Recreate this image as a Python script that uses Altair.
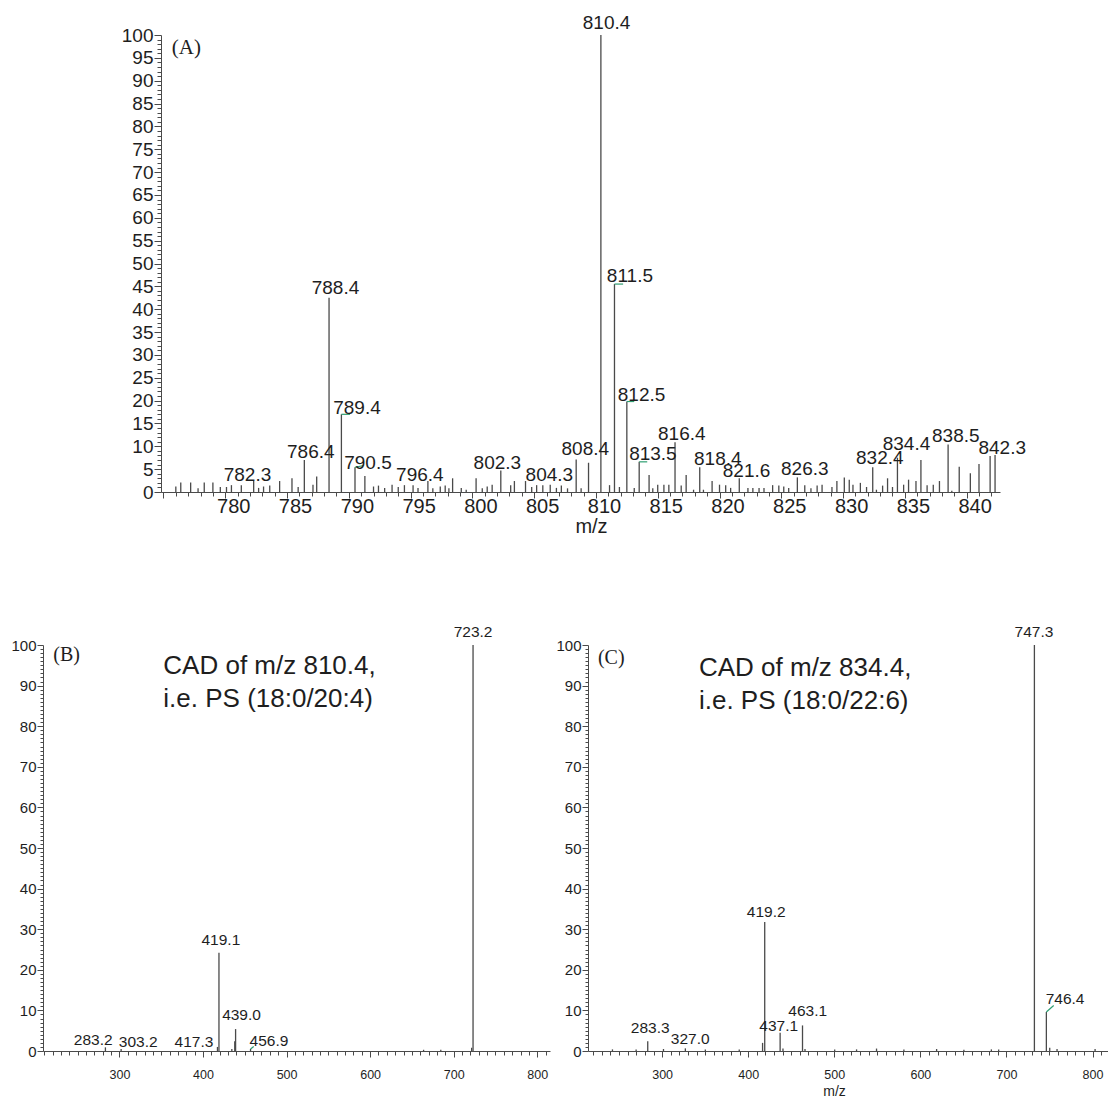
import altair as alt
import pandas as pd

FONT = "Liberation Sans"
SERIF = "Liberation Serif"
INK = "#4a4a4a"
TXT = "#1e1e1e"
GREEN = "#2f9e72"

# ---------------- Panel A : full scan ----------------
A_mz = [776.0, 776.4, 777.2, 777.8, 778.3, 779.0, 779.6, 780.1, 780.5, 781.3,
        782.3, 782.7, 783.1, 783.6, 784.4, 785.4, 785.9, 786.4, 787.1, 787.4,
        788.4, 789.4, 790.5, 791.3, 792.0, 792.4, 792.9, 793.5, 794.0, 794.5,
        795.2, 795.6, 796.4, 796.8, 797.4, 797.8, 798.1, 798.4, 799.1, 799.5,
        800.3, 800.8, 801.2, 801.6, 802.3, 803.1, 803.4, 804.3, 804.8, 805.2,
        805.7, 806.3, 806.8, 807.2, 807.7, 808.4, 808.8, 809.4, 810.4, 811.1,
        811.5, 811.9, 812.5, 813.1, 813.5, 814.3, 814.6, 815.0, 815.5, 815.9,
        816.4, 816.9, 817.3, 817.9, 818.4, 818.7, 819.4, 820.0, 820.5, 820.9,
        821.6, 822.3, 822.7, 823.2, 823.6, 824.3, 824.8, 825.2, 825.6, 826.3,
        826.9, 827.4, 827.9, 828.3, 829.1, 829.5, 830.1, 830.5, 830.8, 831.4,
        831.9, 832.4, 832.7, 833.2, 833.6, 834.0, 834.4, 834.9, 835.3, 835.9,
        836.3, 836.8, 837.3, 837.8, 838.5, 838.8, 839.4, 840.3, 841.0, 841.9,
        842.3]
A_int = [1.2, 2.1, 2.1, 0.8, 2.1, 2.1, 1.1, 1.1, 1.5, 1.5,
         2.4, 0.9, 1.2, 1.4, 2.4, 3.0, 1.1, 7.0, 1.6, 3.4,
         42.5, 17.0, 5.4, 3.5, 1.2, 1.4, 0.9, 1.6, 1.1, 1.5,
         1.5, 0.9, 2.4, 0.8, 1.2, 1.4, 0.8, 3.0, 0.9, 0.5,
         3.0, 0.8, 1.2, 1.6, 4.7, 1.5, 2.4, 2.4, 1.1, 1.5,
         1.5, 1.6, 0.9, 1.4, 0.8, 7.1, 0.8, 6.4, 100.0, 1.5,
         45.5, 1.1, 19.8, 0.9, 6.6, 3.7, 0.8, 1.6, 1.6, 1.6,
         10.9, 1.4, 3.7, 0.5, 5.4, 0.5, 2.4, 1.6, 1.5, 0.9,
         3.0, 0.9, 0.9, 0.9, 0.9, 1.5, 1.4, 1.2, 0.9, 3.2,
         1.5, 0.8, 1.4, 1.6, 1.1, 2.4, 3.2, 2.7, 1.6, 2.0,
         1.1, 5.4, 0.5, 1.4, 3.0, 1.1, 7.5, 1.6, 2.7, 2.4,
         7.0, 1.5, 1.6, 2.4, 10.4, 0.3, 5.5, 4.1, 6.1, 7.9,
         8.1]
A_lab = ["782.3", "786.4", "788.4", "789.4", "790.5", "796.4", "802.3", "804.3",
         "808.4", "810.4", "811.5", "812.5", "813.5", "816.4", "818.4", "821.6",
         "826.3", "832.4", "834.4", "838.5", "842.3"]
A_lab_mz = [781.80, 786.92, 788.92, 790.66, 791.55, 795.75, 802.02, 806.23,
            809.14, 810.86, 812.75, 813.69, 814.61, 816.95, 819.86, 822.19,
            826.90, 832.97, 835.13, 839.12, 842.88]
A_lab_int = [3.72, 8.82, 44.57, 18.32, 6.28, 3.72, 6.28, 3.72,
             9.34, 102.6, 47.3, 21.2, 8.3, 12.7, 7.2, 4.66,
             5.03, 7.37, 10.5, 12.25, 9.56]
A_conn = {"mz": [789.4, 790.5, 811.5, 812.5, 813.5],
          "i": [17.0, 5.4, 45.5, 19.8, 6.6],
          "mz2": [790.1, 791.2, 812.2, 813.1, 814.15],
          "i2": [17.0, 5.8, 45.5, 19.8, 6.6]}

# ---------------- Panel B : CAD of m/z 810.4 ----------------
B_mz = [283.2, 302.0, 417.3, 419.1, 434.5, 438.0, 439.0, 456.9, 664.0, 684.6, 721.5, 723.2]
B_int = [0.9, 0.5, 1.0, 24.2, 0.5, 2.4, 5.4, 0.5, 0.3, 0.3, 0.8, 100.0]
B_lab = ["283.2", "303.2", "417.3", "419.1", "439.0", "456.9", "723.2"]
B_lab_mz = [268.6, 322.5, 389.2, 421.4, 446.1, 479.0, 723.2]
B_lab_int = [2.7, 2.2, 2.2, 27.3, 8.9, 2.5, 103.2]
B_conn = {"mz": [456.9], "i": [0.5], "mz2": [460.7], "i2": [1.1]}
B_notes = ["CAD of m/z 810.4,", "i.e. PS (18:0/20:4)"]
B_note_mz = [352.5, 352.5]
B_note_int = [94.8, 86.6]

# ---------------- Panel C : CAD of m/z 834.4 ----------------
C_mz = [242.3, 269.8, 283.3, 301.6, 327.0, 350.2, 389.6, 416.7, 419.2, 437.1,
        440.4, 463.1, 466.0, 500.5, 525.9, 549.1, 580.9, 618.9, 650.6, 682.5,
        691.0, 732.5, 746.4, 750.3, 758.8, 803.0]
C_int = [0.4, 0.4, 2.4, 0.5, 0.65, 0.4, 0.4, 2.0, 31.8, 4.5,
         0.6, 6.3, 0.5, 0.4, 0.4, 0.6, 0.4, 0.5, 0.3, 0.4,
         0.4, 100.0, 9.6, 0.8, 0.5, 0.5]
C_lab = ["283.3", "327.0", "419.2", "437.1", "463.1", "746.4", "747.3"]
C_lab_mz = [286.2, 332.7, 420.9, 435.5, 469.2, 768.1, 732.0]
C_lab_int = [5.7, 2.85, 34.3, 6.1, 9.75, 12.85, 103.2]
C_conn = {"mz": [746.4], "i": [9.6], "mz2": [754.9], "i2": [11.2]}
C_notes = ["CAD of m/z 834.4,", "i.e. PS (18:0/22:6)"]
C_note_mz = [342.8, 342.8]
C_note_int = [94.3, 86.1]


def tick_axis(values, major, big, small, first=None, **kw):
    test = f"datum.value % {major} === 0"
    show = test if first is None else f"{test} && datum.value >= {first}"
    return alt.Axis(values=values,
                    labelExpr=f"({show}) ? datum.label : ''",
                    tickSize={"condition": {"test": test, "value": big}, "value": small},
                    labelOverlap=False, labelFlush=False, grid=False,
                    domainColor=INK, tickColor=INK, labelColor=TXT,
                    labelFont=FONT, titleFont=FONT, titleColor=TXT,
                    titleFontWeight="normal", **kw)


def panel(mz, inten, lab, lab_mz, lab_int, lab_size, conn, tag, tag_mz, tag_int,
          tag_size, notes, note_mz, note_int, xdom, xaxis, yaxis, w, h):
    xs = alt.Scale(domain=xdom, nice=False, zero=False)
    ys = alt.Scale(domain=[0, 100], nice=False)
    peaks = alt.Chart(pd.DataFrame({"mz": mz, "i": inten})).mark_rule(
        color=INK, strokeWidth=1.3).encode(y2=alt.datum(0))
    conns = alt.Chart(pd.DataFrame(conn)).mark_rule(color=GREEN, strokeWidth=1.2).encode(
        x2="mz2:Q", y2="i2:Q")
    labels = alt.Chart(pd.DataFrame({"mz": lab_mz, "i": lab_int, "t": lab})).mark_text(
        font=FONT, fontSize=lab_size, color=TXT, baseline="middle", align="center").encode(
        text="t:N")
    tagl = alt.Chart(pd.DataFrame({"mz": [tag_mz], "i": [tag_int], "t": [tag]})).mark_text(
        font=SERIF, fontSize=tag_size, color=TXT, baseline="middle", align="left").encode(
        text="t:N")
    layers = [peaks, conns, labels, tagl]
    if notes:
        nt = alt.Chart(pd.DataFrame({"mz": note_mz, "i": note_int, "t": notes})).mark_text(
            font=FONT, fontSize=26, color=TXT, baseline="middle", align="left").encode(
            text="t:N")
        layers.append(nt)
    return alt.layer(*layers).encode(
        x=alt.X("mz:Q", scale=xs, axis=xaxis),
        y=alt.Y("i:Q", scale=ys, axis=yaxis),
    ).properties(width=w, height=h)


# ---- panel A ----
xA = tick_axis(list(range(775, 843)), 5, 6, 4, first=780, labelFontSize=20, labelPadding=-2,
               labelOffset=8, title="m/z", titleFontSize=20, titlePadding=0, titleX=430)
yA = tick_axis(list(range(0, 101)), 5, 7, 4, labelFontSize=19, labelPadding=1, title=None)
chartA = panel(A_mz, A_int, A_lab, A_lab_mz, A_lab_int, 19, A_conn,
               "(A)", 775.67, 97.2, 21, None, None, None,
               [774.8, 842.7], xA, yA, 839, 457)

# invisible spacer that pushes panel A to the right of the lower row
spacer = alt.Chart(pd.DataFrame({"v": [0]})).mark_point(opacity=0).encode(
    x=alt.value(0), y=alt.value(0)).properties(width=70, height=10)

# ---- panel B ----
xB = tick_axis(list(range(210, 811, 10)), 100, 6, 4, labelFontSize=12.5, labelPadding=11,
               title=None)
yB = tick_axis(list(range(0, 101)), 10, 6, 3, labelFontSize=15, labelPadding=1, title=None)
chartB = panel(B_mz, B_int, B_lab, B_lab_mz, B_lab_int, 15.5, B_conn,
               "(B)", 220.8, 97.5, 20, B_notes, B_note_mz, B_note_int,
               [208.5, 815.3], xB, yB, 507, 406)

# ---- panel C ----
xC = tick_axis(list(range(220, 811, 10)), 100, 6, 4, labelFontSize=12.5, labelPadding=11,
               title="m/z", titleFontSize=14, titlePadding=4, titleX=246)
yC = tick_axis(list(range(0, 101)), 10, 6, 3, labelFontSize=15, labelPadding=1, title=None)
chartC = panel(C_mz, C_int, C_lab, C_lab_mz, C_lab_int, 15.5, C_conn,
               "(C)", 225.4, 96.7, 20, C_notes, C_note_mz, C_note_int,
               [213.9, 818.0], xC, yC, 520, 406)

row1 = alt.hconcat(spacer, chartA, spacing=8)
row2 = alt.hconcat(chartB, chartC, spacing=5)

chart = alt.vconcat(row1, row2, spacing=89).properties(
    padding={"left": 10, "top": 14, "right": 0, "bottom": 0},
    background="white",
).configure_view(stroke=None)

chart.save("out.html", embed_options={"renderer": "svg", "actions": False})
